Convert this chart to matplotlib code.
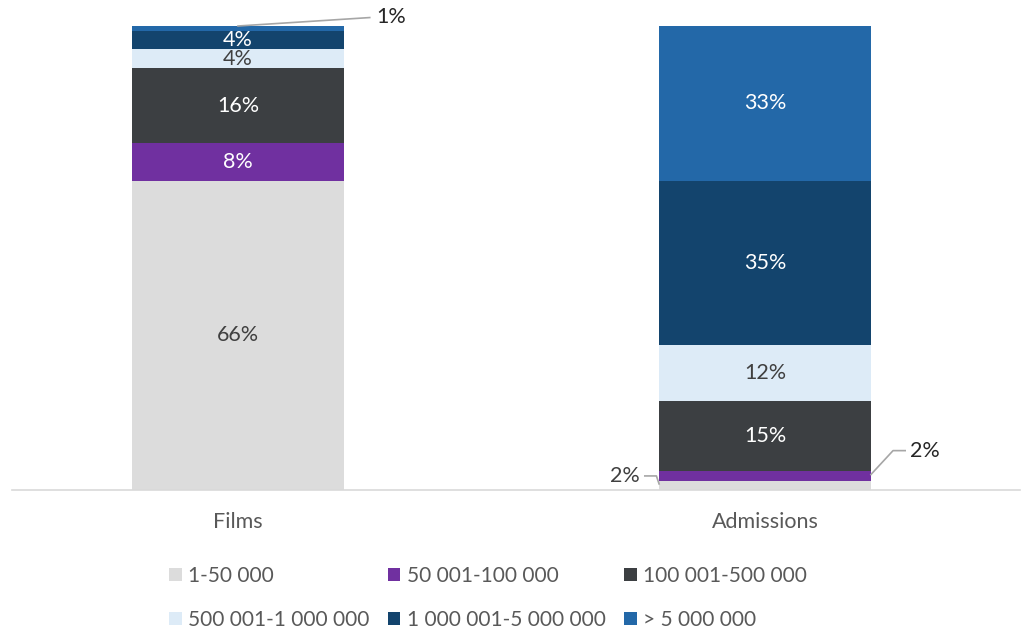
import matplotlib.pyplot as plt
from matplotlib.patches import Patch

plt.rcParams['font.family'] = ['Lato', 'DejaVu Sans']

categories = ["Films", "Admissions"]
bands = ["1-50 000", "50 001-100 000", "100 001-500 000",
         "500 001-1 000 000", "1 000 001-5 000 000", "> 5 000 000"]
films = [66, 8, 16, 4, 4, 1]
admissions = [2, 2, 15, 12, 35, 33]
colors = ["#DCDCDC", "#7030A0", "#3C3F42", "#DDEBF7", "#13446D", "#2368A8"]
text_colors = ["#404040", "white", "white", "#404040", "white", "white"]

FS = 15.5
W, H = 1025, 629
fig = plt.figure(figsize=(W / 100, H / 100), dpi=100)
unit = 464 / 99  # pixels per percent
ax = fig.add_axes([12 / W, 139 / H, (1020 - 12) / W, 100 * unit / H])

x = [0, 1]
width = 0.402
bottoms = [0, 0]
for i, band in enumerate(bands):
    vals = [films[i], admissions[i]]
    ax.bar(x, vals, width, bottom=bottoms, color=colors[i], label=band,
           edgecolor='none')
    for j, v in enumerate(vals):
        if v >= 4:
            ax.text(x[j], bottoms[j] + v / 2, f"{v}%", ha='center', va='center',
                    fontsize=FS, color=text_colors[i])
    bottoms = [bottoms[0] + vals[0], bottoms[1] + vals[1]]

# leader lines for the thin segments
lc = "#A6A6A6"
top_f = sum(films)
ax.plot([0, 0.25], [top_f, 100.8], color=lc, lw=1.2, clip_on=False)
ax.text(0.262, 100.9, f"{films[5]}%", ha='left', va='center', fontsize=FS,
        color='#262626', clip_on=False)

ax.plot([0.772, 0.794, 0.799], [3.0, 3.0, 1.3], color=lc, lw=1.2, clip_on=False)
ax.text(0.763, 3.0, f"{admissions[0]}%", ha='right', va='center', fontsize=FS,
        color='#404040')

ax.plot([1.201, 1.243, 1.266], [3.3, 8.4, 8.4], color=lc, lw=1.2, clip_on=False)
ax.text(1.275, 8.4, f"{admissions[1]}%", ha='left', va='center', fontsize=FS,
        color='#262626')

ax.set_xlim(-0.4288, 1.4839)
ax.set_ylim(0, 100)
for s in ['top', 'right', 'left']:
    ax.spines[s].set_visible(False)
ax.spines['bottom'].set_color('#D9D9D9')
ax.spines['bottom'].set_linewidth(1.2)
ax.set_yticks([])
ax.set_xticks(x)
ax.set_xticklabels(categories, fontsize=FS, color='#595959')
ax.tick_params(axis='x', length=0, pad=16)

handles = [Patch(facecolor=c, edgecolor='none') for c in colors]
order = [0, 3, 1, 4, 2, 5]
fig.legend([handles[k] for k in order], [bands[k] for k in order],
           ncol=3, frameon=False, loc='upper left',
           bbox_to_anchor=(169 / W, 1 - 566 / H),
           fontsize=15, labelcolor='#595959',
           handlelength=0.6, handleheight=0.6, handletextpad=0.3,
           columnspacing=0.9, labelspacing=1.15, borderaxespad=0, borderpad=0)

fig.savefig("out.png", dpi=100, facecolor='white')
